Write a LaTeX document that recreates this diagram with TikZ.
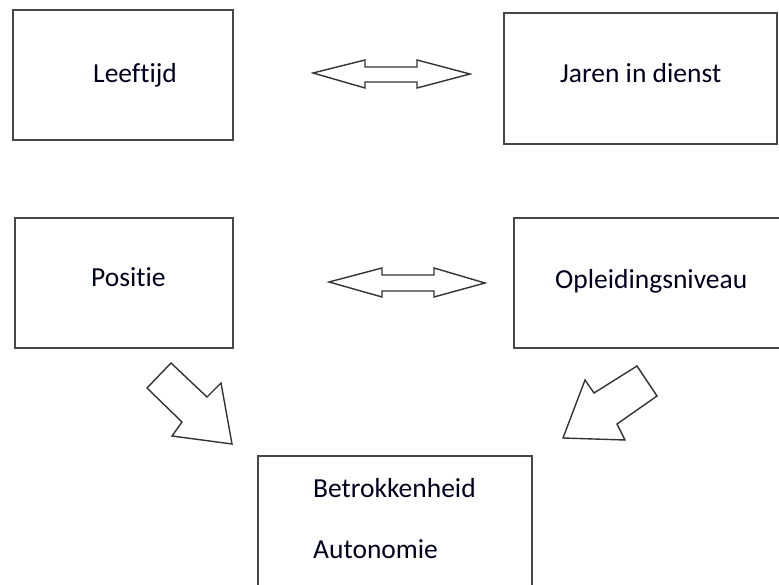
\documentclass[tikz,border=0pt]{standalone}
\usepackage{fontspec}
\setmainfont{Carlito}[Ligatures={NoCommon}]
\begin{document}
\begin{tikzpicture}[x=1pt,y=-1pt,
  box/.style={draw=black!72,line width=2pt,fill=white},
  lbl/.style={anchor=base west,inner sep=0pt,text=black!88!blue,font=\fontsize{27.5}{31}\selectfont},
  blockarrow/.style={draw=black!80,line width=1.4pt,line join=miter,fill=white}]
\clip (0,0) rectangle (779,585);
\fill[white] (0,0) rectangle (779,585);

% boxes
\draw[box] (13,10) rectangle (233,140);
\draw[box] (504,13) rectangle (777,144);
\draw[box] (15,218) rectangle (233,348);
\draw[box] (514,218) rectangle (795,348);
\draw[box] (258,456) rectangle (532,600);

% labels
\node[lbl] (leeftijd) at (93,83) {Leeftijd};
\node[lbl] (jaren) at (560,83) {Jaren in dienst};
\node[lbl] (positie) at (91,287) {Positie};
\node[lbl] (opleiding) at (555,289) {Opleidingsniveau};
\node[lbl] (betrok) at (313,497) {Betrokkenheid};
\node[lbl] (autonomie) at (313,558) {Autonomie};

% two-headed arrows
\draw[blockarrow] (313,73) -- (365,60) -- (365,67) -- (417,67) -- (417,60)
  -- (470,74) -- (417,88) -- (417,82) -- (365,82) -- (365,88) -- cycle;
\draw[blockarrow] (329,282) -- (382,268) -- (382,275) -- (434,275) -- (434,268)
  -- (485,283) -- (434,297) -- (434,291) -- (382,291) -- (382,297) -- cycle;

% diagonal arrows towards the bottom box
\draw[blockarrow] (171,363) -- (207,397) -- (221,383) -- (232,444) -- (172,436)
  -- (182,422) -- (147,388) -- cycle;
\draw[blockarrow] (637,366) -- (657,396) -- (617,424) -- (625,440) -- (563,438)
  -- (585,380) -- (594,393) -- cycle;
\end{tikzpicture}
\end{document}
